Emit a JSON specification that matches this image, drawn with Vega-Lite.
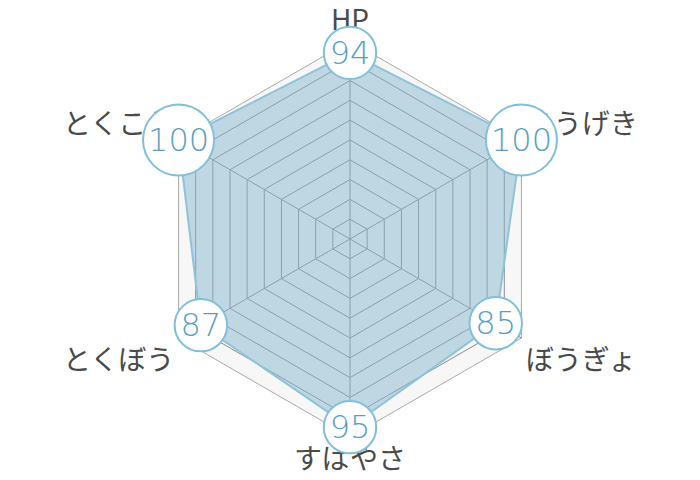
{
  "$schema": "https://vega.github.io/schema/vega-lite/v6.json",
  "description": "Radar chart of base stats",
  "width": 700,
  "height": 480,
  "padding": 0,
  "autosize": {"type": "fit", "contains": "padding"},
  "background": "white",
  "config": {"view": {"stroke": null}},
  "datasets": {
    "stats": [
      {"axis": "HP", "value": 94, "k": 0},
      {"axis": "こうげき", "value": 100, "k": 1},
      {"axis": "ぼうぎょ", "value": 85, "k": 2},
      {"axis": "すばやさ", "value": 95, "k": 3},
      {"axis": "とくぼう", "value": 87, "k": 4},
      {"axis": "とくこう", "value": 100, "k": 5}
    ],
    "levels": [
      {"level": 10, "k": [0, 1, 2, 3, 4, 5]},
      {"level": 20, "k": [0, 1, 2, 3, 4, 5]},
      {"level": 30, "k": [0, 1, 2, 3, 4, 5]},
      {"level": 40, "k": [0, 1, 2, 3, 4, 5]},
      {"level": 50, "k": [0, 1, 2, 3, 4, 5]},
      {"level": 60, "k": [0, 1, 2, 3, 4, 5]},
      {"level": 70, "k": [0, 1, 2, 3, 4, 5]},
      {"level": 80, "k": [0, 1, 2, 3, 4, 5]},
      {"level": 90, "k": [0, 1, 2, 3, 4, 5]},
      {"level": 100, "k": [0, 1, 2, 3, 4, 5]}
    ]
  },
  "layer": [
    {
      "data": {"name": "levels"},
      "transform": [
        {"filter": "datum.level == 100"},
        {"flatten": ["k"]},
        {"calculate": "datum.level * sin(datum.k * PI / 3)", "as": "x"},
        {"calculate": "datum.level * cos(datum.k * PI / 3)", "as": "y"}
      ],
      "mark": {"type": "line", "interpolate": "linear-closed", "fill": "#f7f7f7", "stroke": "#aaaaaa", "strokeWidth": 1},
      "encoding": {
        "x": {"field": "x", "type": "quantitative", "scale": {"domain": [-176.8, 176.8], "nice": false, "zero": false}, "axis": null},
        "y": {"field": "y", "type": "quantitative", "scale": {"domain": [-121.7, 120.7], "nice": false, "zero": false}, "axis": null},
        "order": {"field": "k"}
      }
    },
    {
      "data": {"name": "levels"},
      "transform": [
        {"filter": "datum.level < 100"},
        {"flatten": ["k"]},
        {"calculate": "datum.level * sin(datum.k * PI / 3)", "as": "x"},
        {"calculate": "datum.level * cos(datum.k * PI / 3)", "as": "y"}
      ],
      "mark": {"type": "line", "interpolate": "linear-closed", "stroke": "#8b8b8b", "strokeWidth": 1},
      "encoding": {
        "x": {"field": "x", "type": "quantitative"},
        "y": {"field": "y", "type": "quantitative"},
        "detail": {"field": "level"},
        "order": {"field": "k"}
      }
    },
    {
      "data": {"name": "stats"},
      "transform": [
        {"calculate": "100 * sin(datum.k * PI / 3)", "as": "x"},
        {"calculate": "100 * cos(datum.k * PI / 3)", "as": "y"}
      ],
      "mark": {"type": "rule", "stroke": "#8b8b8b", "strokeWidth": 1},
      "encoding": {
        "x": {"field": "x", "type": "quantitative"},
        "y": {"field": "y", "type": "quantitative"},
        "x2": {"datum": 0},
        "y2": {"datum": 0}
      }
    },
    {
      "data": {"name": "stats"},
      "transform": [
        {"calculate": "102.5 * sin(datum.k * PI / 3)", "as": "lx"},
        {"calculate": "102.5 * cos(datum.k * PI / 3) + (datum.k == 0 ? 7 : (datum.k == 3 ? -9.5 : (cos(datum.k * PI / 3) > 0 ? 6 : -11)))", "as": "ly"}
      ],
      "layer": [
        {
          "transform": [{"filter": "datum.k == 0 || datum.k == 3"}],
          "mark": {"type": "text", "font": "Noto Sans CJK JP", "fontSize": 28, "color": "#4a4a4a", "align": "center", "baseline": "middle"},
          "encoding": {
            "x": {"field": "lx", "type": "quantitative"},
            "y": {"field": "ly", "type": "quantitative"},
            "text": {"field": "axis"}
          }
        },
        {
          "transform": [{"filter": "datum.k == 1 || datum.k == 2"}],
          "mark": {"type": "text", "font": "Noto Sans CJK JP", "fontSize": 28, "color": "#4a4a4a", "align": "left", "baseline": "middle"},
          "encoding": {
            "x": {"field": "lx", "type": "quantitative"},
            "y": {"field": "ly", "type": "quantitative"},
            "text": {"field": "axis"}
          }
        },
        {
          "transform": [{"filter": "datum.k == 4 || datum.k == 5"}],
          "mark": {"type": "text", "font": "Noto Sans CJK JP", "fontSize": 28, "color": "#4a4a4a", "align": "right", "baseline": "middle"},
          "encoding": {
            "x": {"field": "lx", "type": "quantitative"},
            "y": {"field": "ly", "type": "quantitative"},
            "text": {"field": "axis"}
          }
        }
      ]
    },
    {
      "data": {"name": "stats"},
      "transform": [
        {"calculate": "datum.value * sin(datum.k * PI / 3)", "as": "x"},
        {"calculate": "datum.value * cos(datum.k * PI / 3)", "as": "y"}
      ],
      "layer": [
        {
          "mark": {"type": "line", "interpolate": "linear-closed", "fill": "#85b7cd", "fillOpacity": 0.5, "stroke": "#8ec3db", "strokeWidth": 2},
          "encoding": {
            "x": {"field": "x", "type": "quantitative"},
            "y": {"field": "y", "type": "quantitative"},
            "order": {"field": "k"}
          }
        },
        {
          "mark": {"type": "point", "shape": "circle", "filled": true, "fill": "white", "stroke": "#82bfda", "strokeWidth": 2, "opacity": 1},
          "encoding": {
            "x": {"field": "x", "type": "quantitative"},
            "y": {"field": "y", "type": "quantitative"},
            "size": {"condition": {"test": "datum.value >= 100", "value": 5050}, "value": 2750}
          }
        },
        {
          "mark": {"type": "text", "font": "DejaVu Sans", "fontWeight": 200, "fontSize": 32, "color": "#5a9fc2", "baseline": "middle", "align": "center", "dy": 1},
          "encoding": {
            "x": {"field": "x", "type": "quantitative"},
            "y": {"field": "y", "type": "quantitative"},
            "text": {"field": "value", "type": "quantitative"}
          }
        }
      ]
    }
  ]
}
